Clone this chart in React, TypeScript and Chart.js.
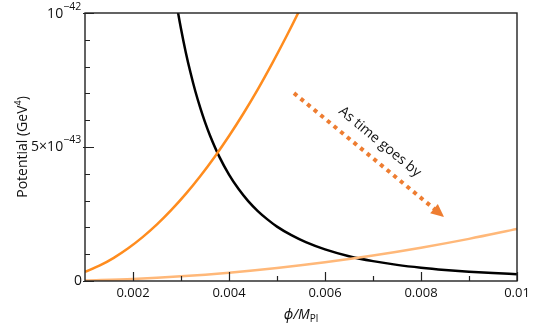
import React, { useEffect, useRef } from "react";
import { Chart, registerables } from "chart.js";

Chart.register(...registerables);

// Potential values are in units of 1e-43 GeV^4
const blackX = [0.0028, 0.0029, 0.003, 0.0031, 0.0032, 0.0033, 0.0034, 0.0035, 0.0036, 0.0038, 0.004, 0.0042, 0.0044, 0.0046, 0.0048, 0.005, 0.0053, 0.0056, 0.006, 0.0065, 0.007, 0.0075, 0.008, 0.0085, 0.009, 0.0095, 0.01];
const blackY = [11.58, 10.42, 9.41, 8.53, 7.76, 7.07, 6.47, 5.93, 5.45, 4.63, 3.97, 3.43, 2.98, 2.61, 2.3, 2.03, 1.71, 1.45, 1.18, 0.925, 0.741, 0.602, 0.496, 0.414, 0.349, 0.296, 0.254];

const orangeX = [0.001, 0.0013, 0.0016, 0.0019, 0.0022, 0.0025, 0.0028, 0.0031, 0.0034, 0.0037, 0.004, 0.0043, 0.0046, 0.0049, 0.0052, 0.0055, 0.0058];
const orangeY = [0.338, 0.571, 0.865, 1.22, 1.636, 2.11, 2.65, 3.25, 3.91, 4.63, 5.41, 6.25, 7.15, 8.12, 9.14, 10.22, 11.37];

const lightX = [0.001, 0.002, 0.003, 0.004, 0.005, 0.006, 0.007, 0.008, 0.009, 0.01];
const lightY = [0.019, 0.078, 0.175, 0.31, 0.485, 0.698, 0.951, 1.242, 1.571, 1.94];

const xMajorTicks = [0.002, 0.004, 0.006, 0.008, 0.01];
const xTickLabels = ["0.002", "0.004", "0.006", "0.008", "0.01"];
const xMinorTicks = [0.003, 0.005, 0.007, 0.009];
const yMajorTicks = [0, 5, 10];
const yMinorTicks = [1, 2, 3, 4, 6, 7, 8, 9];

const arrowStart = { x: 0.005354, y: 7.01 };
const arrowEnd = { x: 0.00848, y: 2.39 };
const arrowText = "As time goes by";

const FONT = "'Open Sans', 'Noto Sans', sans-serif";

const pts = (xs: number[], ys: number[]) => xs.map((x, i) => ({ x, y: ys[i] }));

const decor = {
  id: "decor",
  afterDraw(chart: any) {
    const ctx: CanvasRenderingContext2D = chart.ctx;
    const xs = chart.scales.x;
    const ys = chart.scales.y;
    const a = chart.chartArea;
    ctx.save();
    // frame
    ctx.strokeStyle = "#222";
    ctx.lineWidth = 1.4;
    ctx.strokeRect(a.left, a.top, a.right - a.left, a.bottom - a.top);
    // x ticks
    ctx.lineWidth = 1.2;
    ctx.beginPath();
    xMajorTicks.forEach((v) => {
      const px = Math.round(xs.getPixelForValue(v)) + 0.5;
      ctx.moveTo(px, a.bottom);
      ctx.lineTo(px, a.bottom - 9);
    });
    xMinorTicks.forEach((v) => {
      const px = Math.round(xs.getPixelForValue(v)) + 0.5;
      ctx.moveTo(px, a.bottom);
      ctx.lineTo(px, a.bottom - 5);
    });
    yMajorTicks.forEach((v) => {
      const py = Math.round(ys.getPixelForValue(v)) + 0.5;
      ctx.moveTo(a.left - 2, py);
      ctx.lineTo(a.left + 9, py);
    });
    yMinorTicks.forEach((v) => {
      const py = Math.round(ys.getPixelForValue(v)) + 0.5;
      ctx.moveTo(a.left, py);
      ctx.lineTo(a.left + 5, py);
    });
    ctx.stroke();

    ctx.fillStyle = "#111";
    // x tick labels
    ctx.font = `13px ${FONT}`;
    ctx.textAlign = "center";
    ctx.textBaseline = "middle";
    xMajorTicks.forEach((v, i) => {
      ctx.fillText(xTickLabels[i], xs.getPixelForValue(v), a.bottom + 12);
    });
    // y tick labels
    const drawPow = (pre: string, exp: string, yPix: number) => {
      ctx.font = `11px ${FONT}`;
      const we = ctx.measureText(exp).width;
      ctx.font = `14px ${FONT}`;
      const wb = ctx.measureText(pre).width;
      const right = a.left - 3;
      ctx.textAlign = "left";
      ctx.textBaseline = "middle";
      ctx.fillText(pre, right - we - wb, yPix);
      ctx.font = `10.5px ${FONT}`;
      ctx.fillText(exp, right - we, yPix - 7);
    };
    ctx.font = `14px ${FONT}`;
    ctx.textAlign = "right";
    ctx.textBaseline = "middle";
    ctx.fillText("0", a.left - 3, ys.getPixelForValue(0));
    drawPow("5\u00d710", "\u221243", ys.getPixelForValue(5));
    drawPow("10", "\u221242", ys.getPixelForValue(10) + 1);

    // y title
    ctx.save();
    ctx.translate(23, (a.top + a.bottom) / 2);
    ctx.rotate(-Math.PI / 2);
    ctx.font = `14px ${FONT}`;
    const t1 = "Potential (GeV";
    const t2 = "4";
    const t3 = ")";
    ctx.font = `14px ${FONT}`;
    const w1 = ctx.measureText(t1).width;
    const w3 = ctx.measureText(t3).width;
    ctx.font = `9px ${FONT}`;
    const w2 = ctx.measureText(t2).width;
    let sx = -(w1 + w2 + w3) / 2;
    ctx.textAlign = "left";
    ctx.textBaseline = "middle";
    ctx.font = `14px ${FONT}`;
    ctx.fillText(t1, sx, 0);
    sx += w1;
    ctx.font = `9px ${FONT}`;
    ctx.fillText(t2, sx, -5);
    sx += w2;
    ctx.font = `14px ${FONT}`;
    ctx.fillText(t3, sx, 0);
    ctx.restore();

    // x title: phi/M_Pl
    {
      const cy = a.bottom + 34;
      const parts = [
        { t: "\u03d5/M", f: `italic 14px ${FONT}`, dy: 0 },
        { t: "Pl", f: `10px ${FONT}`, dy: 4 },
      ];
      let tw = 0;
      parts.forEach((p) => { ctx.font = p.f; tw += ctx.measureText(p.t).width; });
      let px = (a.left + a.right) / 2 - tw / 2;
      ctx.textAlign = "left";
      ctx.textBaseline = "middle";
      parts.forEach((p) => {
        ctx.font = p.f;
        ctx.fillText(p.t, px, cy + p.dy);
        px += ctx.measureText(p.t).width;
      });
    }

    // arrow
    const x0 = xs.getPixelForValue(arrowStart.x);
    const y0 = ys.getPixelForValue(arrowStart.y);
    const x1 = xs.getPixelForValue(arrowEnd.x);
    const y1 = ys.getPixelForValue(arrowEnd.y);
    const ang = Math.atan2(y1 - y0, x1 - x0);
    const headLen = 13;
    const lx = x1 - Math.cos(ang) * (headLen - 2);
    const ly = y1 - Math.sin(ang) * (headLen - 2);
    ctx.strokeStyle = "#ee7d31";
    ctx.fillStyle = "#ee7d31";
    ctx.lineWidth = 4;
    ctx.setLineDash([4, 4.6]);
    ctx.lineCap = "butt";
    ctx.beginPath();
    ctx.moveTo(x0, y0);
    ctx.lineTo(lx, ly);
    ctx.stroke();
    ctx.setLineDash([]);
    ctx.beginPath();
    ctx.moveTo(x1, y1);
    const bx = x1 - Math.cos(ang) * headLen;
    const by = y1 - Math.sin(ang) * headLen;
    const hw = 6;
    ctx.lineTo(bx + Math.sin(ang) * hw, by - Math.cos(ang) * hw);
    ctx.lineTo(bx - Math.sin(ang) * hw, by + Math.cos(ang) * hw);
    ctx.closePath();
    ctx.fill();

    // annotation text
    ctx.save();
    const mx = (x0 + x1) / 2;
    const my = (y0 + y1) / 2;
    const off = 17;
    ctx.translate(mx + Math.sin(ang) * off, my - Math.cos(ang) * off);
    ctx.rotate(ang);
    ctx.fillStyle = "#111";
    ctx.font = `14px ${FONT}`;
    ctx.textAlign = "center";
    ctx.textBaseline = "middle";
    ctx.fillText(arrowText, 0, 0);
    ctx.restore();

    ctx.restore();
  },
};

export default function App() {
  const ref = useRef<HTMLCanvasElement | null>(null);
  useEffect(() => {
    document.body.style.margin = "0";
    const canvas = ref.current!;
    const chart = new Chart(canvas, {
      type: "line",
      data: {
        datasets: [
          {
            data: pts(lightX, lightY),
            borderColor: "#ffb879",
            borderWidth: 2.5,
            pointRadius: 0,
            cubicInterpolationMode: "monotone",
            clip: 0,
          } as any,
          {
            data: pts(orangeX, orangeY),
            borderColor: "#ff8c1e",
            borderWidth: 2.5,
            pointRadius: 0,
            cubicInterpolationMode: "monotone",
            clip: 0,
          } as any,
          {
            data: pts(blackX, blackY),
            borderColor: "#000000",
            borderWidth: 2.5,
            pointRadius: 0,
            cubicInterpolationMode: "monotone",
            clip: 0,
          } as any,
        ],
      },
      options: {
        animation: false,
        responsive: false,
        devicePixelRatio: 1,
        layout: { padding: { top: 13, right: 23, left: 0, bottom: 0 } },
        plugins: { legend: { display: false }, tooltip: { enabled: false } },
        scales: {
          x: {
            type: "linear",
            min: 0.001,
            max: 0.01,
            ticks: { display: false },
            grid: { display: false },
            border: { display: false },
            afterFit: (s: any) => { s.height = 48; },
          },
          y: {
            type: "linear",
            min: 0,
            max: 10,
            ticks: { display: false },
            grid: { display: false },
            border: { display: false },
            afterFit: (s: any) => { s.width = 85; },
          },
        },
      },
      plugins: [decor],
    });
    return () => chart.destroy();
  }, []);
  return (
    <div style={{ position: "fixed", left: 0, top: 0, width: 540, height: 329 }}>
      <canvas ref={ref} width={540} height={329} />
    </div>
  );
}
